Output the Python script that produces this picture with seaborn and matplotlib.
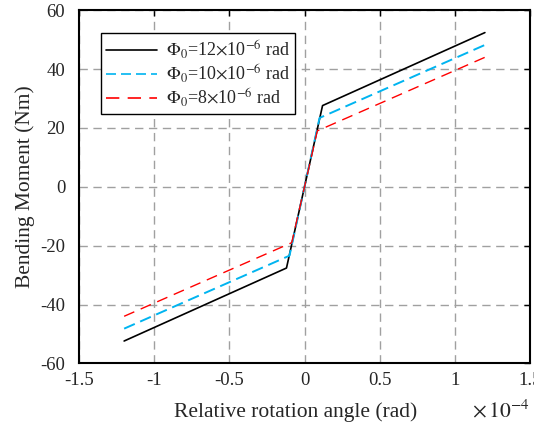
import pandas as pd
import seaborn as sns
import matplotlib.pyplot as plt

# rotation angle in units of 1e-4 rad, moment in Nm
phi_12_x = [-1.2, -0.12, 0.12, 1.2]
phi_12_y = [-52.4, -27.6, 27.6, 52.4]
phi_10_x = [-1.2, -0.1, 0.1, 1.2]
phi_10_y = [-48.2, -23.4, 23.4, 48.2]
phi_8_x = [-1.2, -0.085, 0.085, 1.2]
phi_8_y = [-44.0, -19.0, 19.0, 44.0]

labels = [r'$\Phi_0$=12$\times$10$^{-6}$ rad',
          r'$\Phi_0$=10$\times$10$^{-6}$ rad',
          r'$\Phi_0$=8$\times$10$^{-6}$ rad']

frames = []
for lab, xs, ys in zip(labels, [phi_12_x, phi_10_x, phi_8_x], [phi_12_y, phi_10_y, phi_8_y]):
    frames.append(pd.DataFrame({'angle': xs, 'moment': ys, 'case': lab}))
df = pd.concat(frames, ignore_index=True)

sns.set_style('white')
plt.rcParams['font.family'] = ['Liberation Serif', 'DejaVu Serif']
plt.rcParams['mathtext.fontset'] = 'stix'
plt.rcParams['axes.unicode_minus'] = False

fig, ax = plt.subplots(figsize=(5.34, 4.26), dpi=100)
fig.subplots_adjust(left=0.148, right=0.9925, top=0.976, bottom=0.147)

palette = {labels[0]: 'black', labels[1]: '#00b4f0', labels[2]: '#ff0000'}
dashes = {labels[0]: '', labels[1]: (6, 3), labels[2]: (8, 5)}
sns.lineplot(data=df, x='angle', y='moment', hue='case', style='case',
             palette=palette, dashes=dashes, sort=False, estimator=None,
             linewidth=1.2, ax=ax)
lines = ax.get_lines()
lines[1].set_linewidth(1.4)
lines[2].set_linewidth(1.0)

ax.set_xlim(-1.5, 1.5)
ax.set_ylim(-60, 60)
ax.set_xticks([-1.5, -1, -0.5, 0, 0.5, 1, 1.5])
ax.set_xticklabels(['-1.5', '-1', '-0.5', '0', '0.5', '1', '1.5'])
ax.set_yticks(range(-60, 61, 20))
ax.tick_params(direction='in', labelsize=13.5, length=4, width=1, color='black',
               top=True, right=True)
ax.tick_params(axis='y', pad=10)
ax.tick_params(axis='x', pad=6)
ax.grid(True, color='#a0a0a0', linestyle=(0, (6, 4)), linewidth=1.0)
for s in ax.spines.values():
    s.set_color('black')
    s.set_linewidth(1.5)

ax.set_xlabel('Relative rotation angle (rad)', fontsize=15.5, labelpad=10)
ax.set_ylabel('Bending Moment (Nm)', fontsize=15.5, labelpad=4)
# xlabel sits a little left of centre in the original
ax.xaxis.label.set_x(0.48)
ax.text(1.0, -0.135, r'$\times\,10^{-4}$', transform=ax.transAxes,
        ha='right', va='center', fontsize=15.5)

leg = ax.legend(loc='upper left', bbox_to_anchor=(0.028, 0.962), fontsize=13,
                frameon=True, fancybox=False, handlelength=2.8,
                borderpad=0.3, labelspacing=0.1, handletextpad=0.5)
leg.get_frame().set_edgecolor('black')
leg.get_frame().set_linewidth(1.0)
leg.get_frame().set_alpha(1)

fig.savefig('out.png', dpi=100)
